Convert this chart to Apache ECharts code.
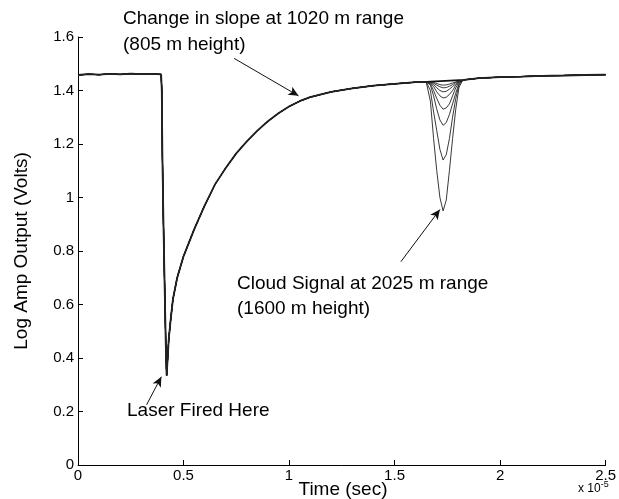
<!DOCTYPE html>
<html>
<head>
<meta charset="utf-8">
<script src="https://cdn.jsdelivr.net/npm/echarts@6/dist/echarts.min.js"></script>
<style>
html,body{margin:0;padding:0;background:#fff;}
#chart{width:619px;height:499px;}
</style>
</head>
<body>
<div id="chart"></div>
<script>
// Time in units of 1e-5 s, voltage in volts
var baseTime = [0, 0.05, 0.1, 0.15, 0.2, 0.25, 0.3, 0.35, 0.394, 0.397, 0.400, 0.405, 0.411, 0.416, 0.420,
  0.425, 0.43, 0.44, 0.45, 0.47, 0.50, 0.55, 0.60, 0.65, 0.70, 0.75, 0.80, 0.85, 0.90, 0.95, 1.00,
  1.05, 1.10, 1.20, 1.30, 1.40, 1.50, 1.60, 1.65, 1.83, 1.90, 2.00, 2.10, 2.20, 2.30, 2.40, 2.50];
var baseVolts = [1.458, 1.461, 1.459, 1.462, 1.460, 1.463, 1.461, 1.462, 1.460, 1.40, 1.15, 0.90, 0.65, 0.45, 0.335,
  0.40, 0.47, 0.55, 0.62, 0.70, 0.78, 0.88, 0.97, 1.05, 1.11, 1.165, 1.21, 1.25, 1.285, 1.315, 1.34,
  1.36, 1.375, 1.395, 1.408, 1.418, 1.425, 1.431, 1.432, 1.440, 1.446, 1.450, 1.452, 1.455, 1.456, 1.458, 1.459];

var dipTime = [1.655, 1.67, 1.685, 1.70, 1.715, 1.73, 1.745, 1.76, 1.775, 1.79, 1.805, 1.82];
var dip1 = [1.432, 1.36, 1.22, 1.10, 1.00, 0.95, 0.99, 1.10, 1.22, 1.33, 1.41, 1.435];
var dip2 = [1.432, 1.40, 1.32, 1.25, 1.18, 1.14, 1.16, 1.22, 1.30, 1.37, 1.42, 1.436];
var dip3 = [1.432, 1.42, 1.38, 1.33, 1.29, 1.27, 1.28, 1.31, 1.35, 1.39, 1.425, 1.436];
var dip4 = [1.432, 1.425, 1.40, 1.37, 1.345, 1.33, 1.335, 1.35, 1.38, 1.41, 1.43, 1.436];
var dip5 = [1.432, 1.428, 1.415, 1.395, 1.38, 1.372, 1.375, 1.385, 1.40, 1.42, 1.432, 1.437];
var dip6 = [1.432, 1.43, 1.422, 1.41, 1.40, 1.395, 1.397, 1.405, 1.415, 1.425, 1.434, 1.437];
var dip7 = [1.432, 1.431, 1.427, 1.42, 1.414, 1.41, 1.411, 1.416, 1.422, 1.43, 1.435, 1.437];
var dip8 = [1.432, 1.432, 1.43, 1.426, 1.422, 1.42, 1.421, 1.424, 1.428, 1.432, 1.436, 1.437];
var dips = [dip1, dip2, dip3, dip4, dip5, dip6, dip7, dip8];

var xTicks = [0, 0.5, 1, 1.5, 2, 2.5];
var yTicks = [0, 0.2, 0.4, 0.6, 0.8, 1, 1.2, 1.4, 1.6];

// annotation arrows [tail, head] in data coords
var arrowSlope = [[0.74, 1.52], [1.045, 1.38]];
var arrowLaser = [[0.325, 0.225], [0.395, 0.33]];
var arrowCloud = [[1.53, 0.76], [1.715, 0.955]];

function buildSeriesData(dip) {
  var pts = [];
  var i;
  if (!dip) {
    for (i = 0; i < baseTime.length; i++) pts.push([baseTime[i], baseVolts[i]]);
    return pts;
  }
  for (i = 0; i < baseTime.length; i++) if (baseTime[i] <= 1.65) pts.push([baseTime[i], baseVolts[i]]);
  for (i = 0; i < dipTime.length; i++) pts.push([dipTime[i], dip[i]]);
  for (i = 0; i < baseTime.length; i++) if (baseTime[i] >= 1.825) pts.push([baseTime[i], baseVolts[i]]);
  return pts;
}

var series = [];
series.push({
  type: 'line', data: buildSeriesData(null), showSymbol: false, symbol: 'none',
  lineStyle: {color: '#111', width: 1.8}, silent: true, z: 3,
  markLine: {
    silent: true, symbol: ['none', 'arrow'], symbolSize: [7, 10],
    lineStyle: {color: '#111', width: 1, type: 'solid'}, label: {show: false},
    data: [
      [{coord: arrowSlope[0]}, {coord: arrowSlope[1]}],
      [{coord: arrowLaser[0]}, {coord: arrowLaser[1]}],
      [{coord: arrowCloud[0]}, {coord: arrowCloud[1]}]
    ]
  }
});
dips.forEach(function (d) {
  series.push({
    type: 'line', data: buildSeriesData(d), showSymbol: false, symbol: 'none',
    lineStyle: {color: '#222', width: 0.9}, silent: true
  });
});

var chart = echarts.init(document.getElementById('chart'), null, {renderer: 'canvas'});
var font = 'Liberation Sans, Arial, Helvetica, sans-serif';
chart.setOption({
  animation: false,
  backgroundColor: '#fff',
  grid: {left: 78, right: 11, top: 37, bottom: 34},
  xAxis: {
    type: 'value', min: 0, max: 2.5, interval: 0.5,
    axisLine: {lineStyle: {color: '#000', width: 1}},
    axisTick: {inside: true, length: 5, lineStyle: {color: '#000'}},
    axisLabel: {color: '#000', fontSize: 15, fontFamily: font, margin: 3,
      formatter: function (v) { return xTicks.indexOf(v) >= 0 ? String(v) : ''; }},
    splitLine: {show: false}
  },
  yAxis: {
    type: 'value', min: 0, max: 1.6, interval: 0.2,
    axisLine: {show: true, lineStyle: {color: '#000', width: 1}},
    axisTick: {show: true, inside: true, length: 5, lineStyle: {color: '#000'}},
    axisLabel: {color: '#000', fontSize: 15, fontFamily: font, margin: 4,
      formatter: function (v) {
        for (var i = 0; i < yTicks.length; i++) if (Math.abs(yTicks[i] - v) < 1e-6) return String(yTicks[i]);
        return '';
      }},
    splitLine: {show: false}
  },
  graphic: [
    {type: 'text', left: 123, top: 9, style: {text: 'Change in slope at 1020 m range', font: '19px ' + font, fill: '#000'}},
    {type: 'text', left: 123, top: 35, style: {text: '(805 m height)', font: '19px ' + font, fill: '#000'}},
    {type: 'text', left: 237, top: 274, style: {text: 'Cloud Signal at 2025 m range', font: '19px ' + font, fill: '#000'}},
    {type: 'text', left: 237, top: 299, style: {text: '(1600 m height)', font: '19px ' + font, fill: '#000'}},
    {type: 'text', left: 127, top: 401, style: {text: 'Laser Fired Here', font: '19px ' + font, fill: '#000'}},
    {type: 'text', x: 22, y: 251, rotation: Math.PI / 2, style: {text: 'Log Amp Output (Volts)', font: '19px ' + font, fill: '#000', textAlign: 'center', textVerticalAlign: 'middle'}},
    {type: 'text', x: 343, y: 490, style: {text: 'Time (sec)', font: '19px ' + font, fill: '#000', textAlign: 'center', textVerticalAlign: 'middle'}},
    {type: 'text', x: 578, y: 489, style: {
      text: '{a|x 10}{b|-5}', textVerticalAlign: 'middle',
      rich: {a: {font: '12px ' + font, fill: '#000'}, b: {font: '9px ' + font, fill: '#000', verticalAlign: 'top', padding: [0, 0, 9, 0]}}
    }}
  ],
  series: series
});
</script>
</body>
</html>
